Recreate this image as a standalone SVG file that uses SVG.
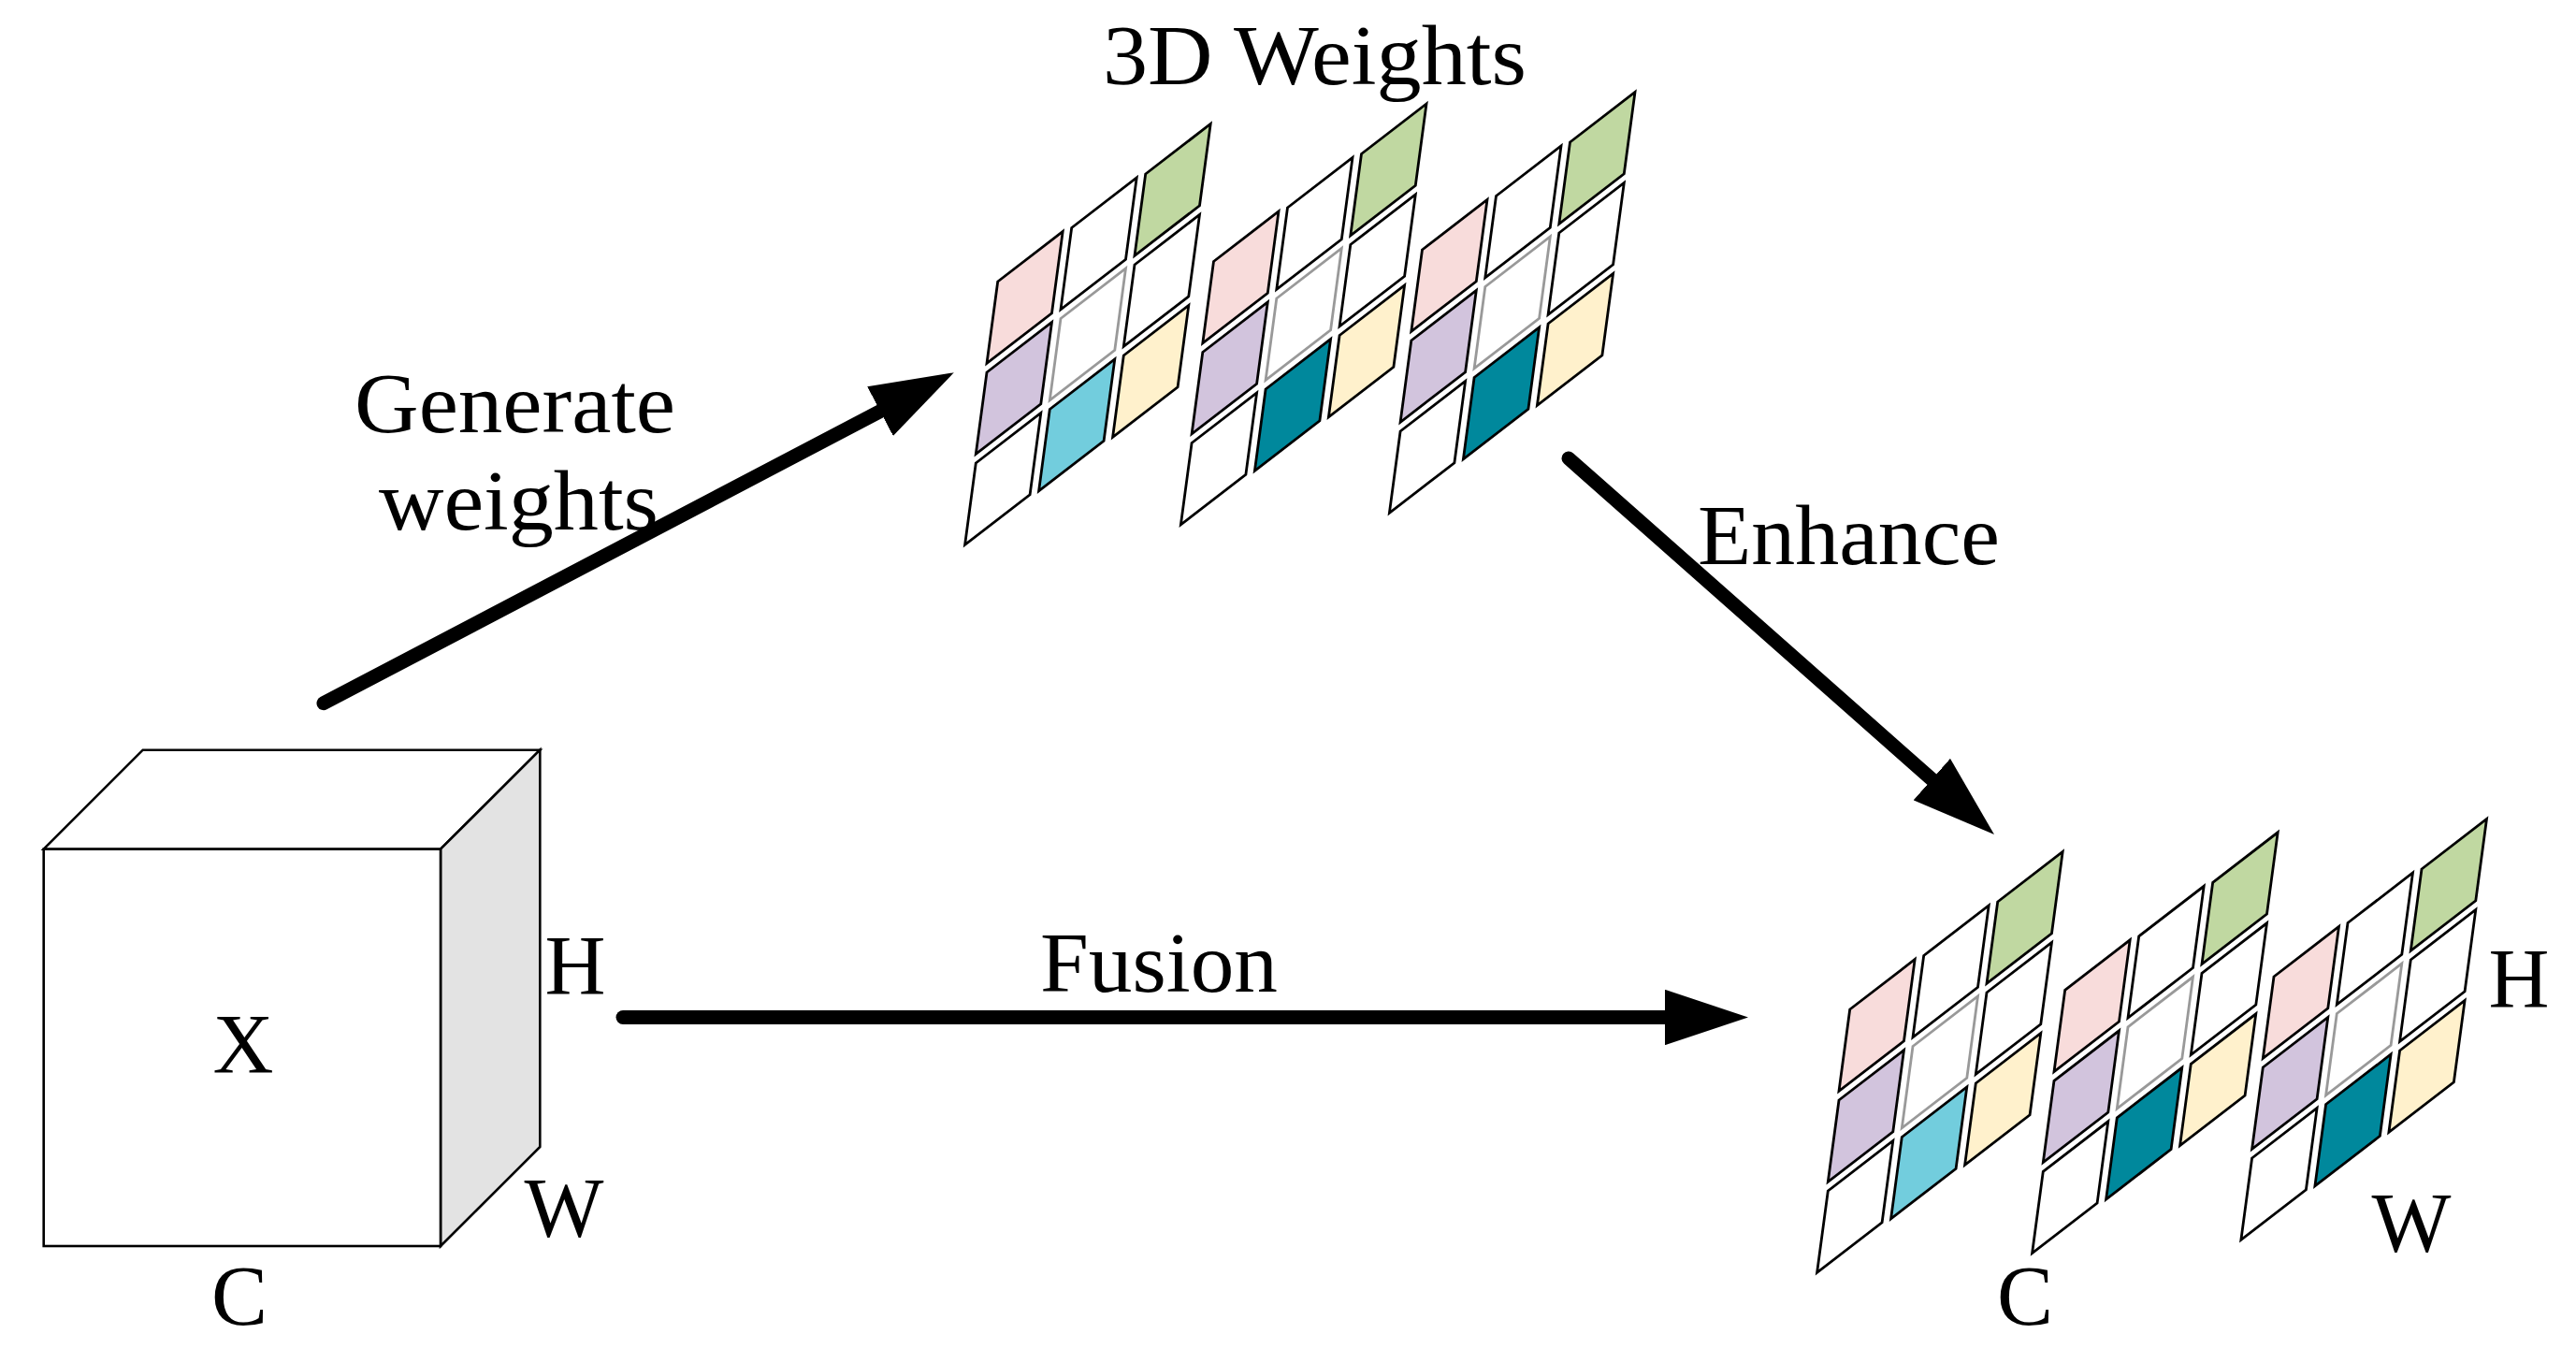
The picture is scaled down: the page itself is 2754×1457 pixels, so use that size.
<svg xmlns="http://www.w3.org/2000/svg" xmlns:xlink="http://www.w3.org/1999/xlink" width="2754" height="1457" viewBox="0 0 2754 1457">
<style>
.lbl{font-family:"Liberation Serif","Times New Roman",serif;font-size:90px;fill:#000}
.cell{stroke:#000;stroke-width:2.8;stroke-linejoin:miter}
.gc{stroke:#999999;stroke-width:2.8}
.w{fill:#ffffff}.pk{fill:#F8DCDB}.gr{fill:#C0D8A1}.pu{fill:#D2C4DD}.cy{fill:#72CDDD}.ye{fill:#FFF1CC}.te{fill:#00889C}
.arr{stroke:#000;stroke-width:15;stroke-linecap:round;fill:none}
.edge{stroke:#000;stroke-width:2.6;stroke-linejoin:miter}
</style>
<defs>
<polygon id="cell" points="0,0 69.5,-53.5 57.8,33.8 -11.7,87.3"/>
<marker id="ah" markerUnits="userSpaceOnUse" markerWidth="89" markerHeight="59.4" viewBox="0 0 89 59.4" refX="0" refY="29.7" orient="auto">
<path d="M0,0 L89,29.7 L0,59.4 z" fill="#000"/>
</marker>
<g id="sliceA">
<use href="#cell" class="cell pk" x="0" y="0"/>
<use href="#cell" class="cell w" x="79" y="-57.5"/>
<use href="#cell" class="cell gr" x="158" y="-115"/>
<use href="#cell" class="cell pu" x="-11.7" y="97"/>
<use href="#cell" class="gc w" x="67.3" y="39.5"/>
<use href="#cell" class="cell w" x="146.3" y="-18"/>
<use href="#cell" class="cell w" x="-23.4" y="194"/>
<use href="#cell" class="cell cy" x="55.6" y="136.5"/>
<use href="#cell" class="cell ye" x="134.6" y="79"/>
</g>
<g id="sliceB">
<use href="#cell" class="cell pk" x="0" y="0"/>
<use href="#cell" class="cell w" x="79" y="-57.5"/>
<use href="#cell" class="cell gr" x="158" y="-115"/>
<use href="#cell" class="cell pu" x="-11.7" y="97"/>
<use href="#cell" class="gc w" x="67.3" y="39.5"/>
<use href="#cell" class="cell w" x="146.3" y="-18"/>
<use href="#cell" class="cell w" x="-23.4" y="194"/>
<use href="#cell" class="cell te" x="55.6" y="136.5"/>
<use href="#cell" class="cell ye" x="134.6" y="79"/>
</g>
</defs>
<rect width="2754" height="1457" fill="#ffffff"/>

<g id="cube-x">
<polygon class="edge" fill="#ffffff" points="46.7,907.7 152.7,801.7 577.3,801.7 471,907.7"/>
<polygon class="edge" fill="#E3E3E3" points="471,907.7 577.3,801.7 577.3,1226 471,1332"/>
<rect class="edge" x="46.7" y="907.7" width="424.3" height="424.3" fill="#ffffff"/>
<text class="lbl" x="260" y="1147" text-anchor="middle">X</text>
<text class="lbl" x="615" y="1063" text-anchor="middle">H</text>
<text class="lbl" x="603" y="1322" text-anchor="middle">W</text>
<text class="lbl" x="256" y="1416" text-anchor="middle">C</text>
</g>

<g id="weights3d">
<use href="#sliceA" x="1066.7" y="301"/>
<use href="#sliceB" x="1297.5" y="279.5"/>
<use href="#sliceB" x="1520.5" y="267"/>
<text class="lbl" x="1179" y="90" textLength="453" lengthAdjust="spacingAndGlyphs">3D Weights</text>
</g>

<g id="output">
<use href="#sliceA" x="1977.7" y="1079"/>
<use href="#sliceB" x="2207.7" y="1058.3"/>
<use href="#sliceB" x="2431" y="1044"/>
<text class="lbl" x="2693" y="1077" text-anchor="middle">H</text>
<text class="lbl" x="2578" y="1338" text-anchor="middle">W</text>
<text class="lbl" x="2165" y="1416" text-anchor="middle">C</text>
</g>

<g id="connectors">
<line class="arr" x1="346" y1="751.7" x2="941" y2="439.6" marker-end="url(#ah)"/>
<line class="arr" x1="1677" y1="490" x2="2065.3" y2="833.1" marker-end="url(#ah)"/>
<line class="arr" x1="666" y1="1087.5" x2="1780" y2="1087.5" marker-end="url(#ah)"/>
<text class="lbl" x="379" y="462" textLength="343" lengthAdjust="spacingAndGlyphs">Generate</text>
<text class="lbl" x="405" y="566" textLength="299" lengthAdjust="spacingAndGlyphs">weights</text>
<text class="lbl" x="1815" y="603" textLength="323" lengthAdjust="spacingAndGlyphs">Enhance</text>
<text class="lbl" x="1112" y="1060" textLength="254" lengthAdjust="spacingAndGlyphs">Fusion</text>
</g>
</svg>
